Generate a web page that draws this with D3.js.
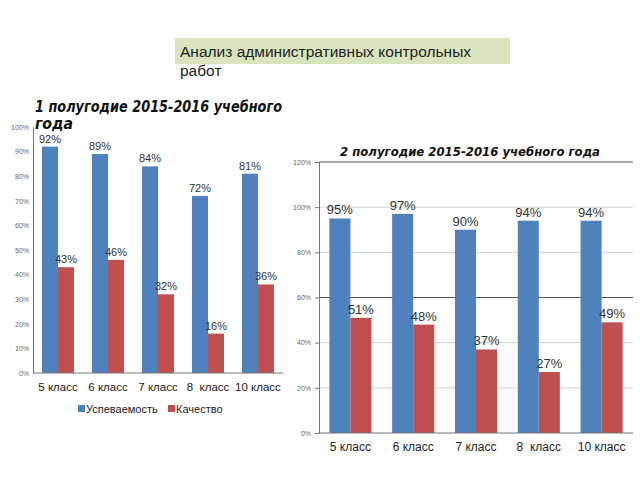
<!DOCTYPE html>
<html><head><meta charset="utf-8">
<script src="https://cdn.jsdelivr.net/npm/d3@7"></script>
<style>body{margin:0;background:#fff}svg{display:block}</style>
</head><body>
<script>
const categories = ["5 класс","6 класс","7 класс","8  класс","10 класс"];
const seriesNames = ["Успеваемость","Качество"];
const h1Uspev = [92,89,84,72,81];
const h1Kach = [43,46,32,16,36];
const h2Uspev = [95,97,90,94,94];
const h2Kach = [51,48,37,27,49];
const h1Ticks = [0,10,20,30,40,50,60,70,80,90,100];
const h2Ticks = [0,20,40,60,80,100,120];
const colors = ["#4f81bd","#c0504d"];

const svg = d3.select("body").append("svg").attr("width",640).attr("height",480);

// header
svg.append("rect").attr("x",175).attr("y",38).attr("width",335).attr("height",26).attr("fill","#d7e4bd");
svg.append("text").attr("x",180).attr("y",57).attr("font-family","Liberation Sans, Arial").attr("font-size",15.5).attr("fill","#222").text("Анализ административных контрольных");
svg.append("text").attr("x",180).attr("y",76).attr("font-family","Liberation Sans, Arial").attr("font-size",15.5).attr("fill","#222").text("работ");

function drawChart(cfg){
  const g = svg.append("g");
  const x = d3.scaleBand().domain(categories).range([cfg.x0,cfg.x1]).paddingInner(cfg.pad).paddingOuter(cfg.pad/2);
  const xs = d3.scaleBand().domain(seriesNames).range([0,x.bandwidth()]);
  const y = d3.scaleLinear().domain([0,cfg.max]).range([cfg.y0,cfg.y1]);
  if(cfg.grid){
    g.selectAll("line.grid").data(cfg.ticks.filter(t=>t>0)).enter().append("line")
      .attr("x1",cfg.x0).attr("x2",cfg.x1).attr("y1",d=>y(d)).attr("y2",d=>y(d))
      .attr("stroke",d=>(cfg.dark.includes(d))?"#555":"#d0d0d0").attr("stroke-width",1);
  }
  const yAxis = g.append("g").attr("transform",`translate(${cfg.x0},0)`)
    .call(d3.axisLeft(y).tickValues(cfg.ticks).tickFormat(d=>d+"%").tickSize(cfg.tick).tickPadding(4));
  yAxis.select(".domain").attr("stroke","#777");
  yAxis.selectAll(".tick line").attr("stroke","#777");
  yAxis.selectAll("text").attr("font-family","Liberation Sans, Arial").attr("font-size",7).attr("fill","#666");
  const data = [cfg.a, cfg.b];
  seriesNames.forEach((s,si)=>{
    g.selectAll("rect.s"+si).data(categories).enter().append("rect")
      .attr("x",c=>x(c)+xs(s)).attr("width",xs.bandwidth())
      .attr("y",(c,i)=>y(data[si][i])).attr("height",(c,i)=>cfg.y0-y(data[si][i]))
      .attr("fill",colors[si]);
    g.selectAll("text.l"+si).data(categories).enter().append("text")
      .attr("x",c=>x(c)+xs(s)+xs.bandwidth()/2).attr("y",(c,i)=>y(data[si][i])-4)
      .attr("text-anchor","middle").attr("font-family","Liberation Sans, Arial").attr("font-size",cfg.lfs).attr("fill","#333")
      .text((c,i)=>data[si][i]+"%");
  });
  g.append("line").attr("x1",cfg.x0).attr("x2",cfg.x1).attr("y1",cfg.y0).attr("y2",cfg.y0).attr("stroke","#777");
  g.selectAll("text.cat").data(categories).enter().append("text")
    .attr("x",c=>x(c)+x.bandwidth()/2).attr("y",cfg.y0+cfg.catDy).attr("text-anchor","middle")
    .attr("font-family","Liberation Sans, Arial").attr("font-size",cfg.cfs).attr("fill","#222").attr("xml:space","preserve")
    .style("white-space","pre").text(c=>c);
  cfg.title.forEach((t,i)=>{
    const tt = g.append("text").attr("x",cfg.tx).attr("y",cfg.ty+i*cfg.tlh).attr("text-anchor",cfg.tanchor)
      .attr("font-family","DejaVu Sans").attr("font-weight","bold").attr("font-style","italic")
      .attr("font-size",cfg.tfs).attr("fill","#111").text(t);
    if(cfg.tlen[i]) tt.attr("textLength",cfg.tlen[i]).attr("lengthAdjust","spacingAndGlyphs");
  });
}

drawChart({x0:33,x1:283,y0:373,y1:127,max:100,ticks:h1Ticks,pad:0.36,grid:false,dark:[],tick:0,
  a:h1Uspev,b:h1Kach,lfs:11,cfs:11.5,catDy:18,title:["1 полугодие 2015-2016 учебного","года"],tlen:[247,38],tx:35,ty:112,tlh:17,tanchor:"start",tfs:15});
drawChart({x0:319,x1:633,y0:433,y1:162,max:120,ticks:h2Ticks,pad:0.33,grid:true,dark:[60,120],tick:4,
  a:h2Uspev,b:h2Kach,lfs:13,cfs:12,catDy:18,title:["2 полугодие 2015-2016 учебного года"],tlen:[260],tx:470,ty:156,tlh:17,tanchor:"middle",tfs:13});

// legend
const leg = svg.append("g");
const legX = [78,168];
seriesNames.forEach((s,i)=>{
  leg.append("rect").attr("x",legX[i]).attr("y",405).attr("width",7).attr("height",7).attr("fill",colors[i]);
  leg.append("text").attr("x",legX[i]+8).attr("y",413).attr("font-family","Liberation Sans, Arial").attr("font-size",11).attr("fill","#222").text(s);
});
</script>
</body></html>
